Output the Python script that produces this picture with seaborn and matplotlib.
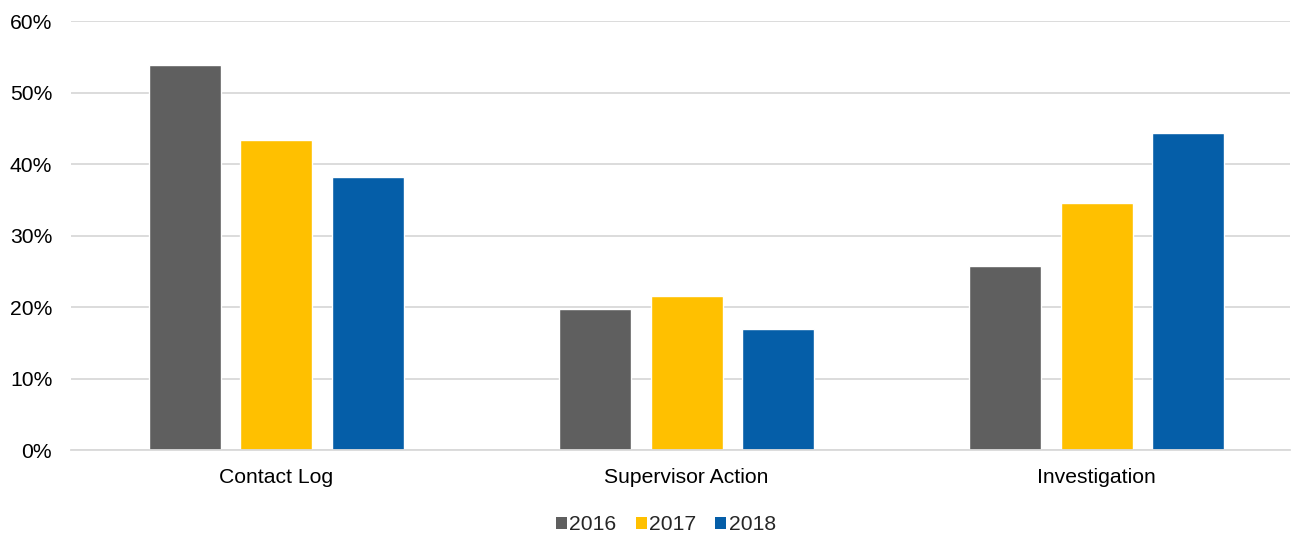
import matplotlib
matplotlib.use("Agg")
import matplotlib.pyplot as plt
import seaborn as sns
import pandas as pd
from matplotlib.ticker import PercentFormatter, MultipleLocator
from matplotlib.patches import Patch

categories = ["Contact Log", "Supervisor Action", "Investigation"]
years = ["2016", "2017", "2018"]
values_2016 = [53.9, 19.7, 25.7]
values_2017 = [43.4, 21.5, 34.5]
values_2018 = [38.2, 16.9, 44.4]
colors = ["#5F5F5F", "#FFC000", "#055EA8"]

rows = []
for yr, vals in zip(years, [values_2016, values_2017, values_2018]):
    for c, v in zip(categories, vals):
        rows.append({"Category": c, "Year": yr, "Value": v})
df = pd.DataFrame(rows)

sns.set_theme(style="white")
plt.rcParams["font.family"] = ["Liberation Sans", "DejaVu Sans"]

FS = 15.2
fig = plt.figure(figsize=(13.04, 5.37), dpi=100)
ax = fig.add_axes([71/1304, (537-450)/537, 1219/1304, 428.7/537])

sns.barplot(data=df, x="Category", y="Value", hue="Year", order=categories,
            hue_order=years, palette=colors, width=0.666, gap=0.209,
            saturation=1, ax=ax, legend=False, errorbar=None)

ax.set_ylim(0, 60)
ax.set_xlim(-0.5012, 2.4719)
ax.yaxis.set_major_locator(MultipleLocator(10))
ax.yaxis.set_major_formatter(PercentFormatter(decimals=0))
ax.grid(axis="y", color="#D9D9D9", linewidth=1.3)
ax.set_axisbelow(True)
for s in ["top", "right", "left"]:
    ax.spines[s].set_visible(False)
ax.spines["bottom"].set_color("#D9D9D9")
ax.spines["bottom"].set_linewidth(1.3)
ax.set_xlabel("")
ax.set_ylabel("")
ax.tick_params(axis="both", length=0, labelsize=FS, colors="#000000")
ax.tick_params(axis="x", pad=13)
ax.tick_params(axis="y", pad=13.5)

handles = [Patch(facecolor=c, edgecolor="none") for c in colors]
fig.legend(handles, years, loc="center", bbox_to_anchor=(666/1304, 1 - 525/537),
           ncol=3, frameon=False, fontsize=FS, handlelength=0.52,
           handleheight=0.52, handletextpad=0.12, columnspacing=0.9,
           borderpad=0, borderaxespad=0)

fig.savefig("out.png", dpi=100)
